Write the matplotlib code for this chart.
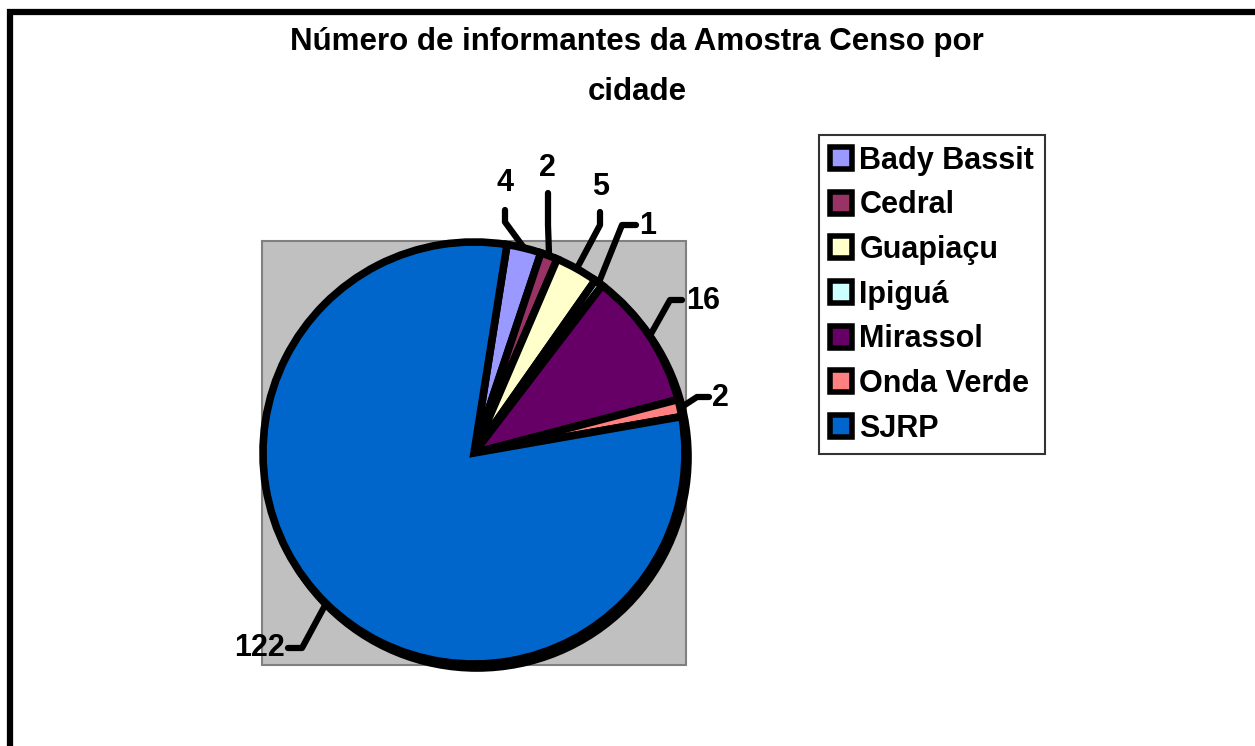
import matplotlib
matplotlib.use("Agg")
import matplotlib.pyplot as plt
from matplotlib.patches import Rectangle, Circle, Patch
import numpy as np

plt.rcParams['font.family'] = ['Liberation Sans', 'DejaVu Sans']
plt.rcParams['font.weight'] = 'bold'

cidades = ['Bady Bassit', 'Cedral', 'Guapiaçu', 'Ipiguá', 'Mirassol', 'Onda Verde', 'SJRP']
informantes = [4, 2, 5, 1, 16, 2, 122]
cores = ['#9999FF', '#993366', '#FFFFCC', '#CCFFFF', '#660066', '#FF8080', '#0066CC']
titulo = 'Número de informantes da Amostra Censo por\ncidade'

W, H = 1255, 746
fig = plt.figure(figsize=(W / 100, H / 100), dpi=100)
ax = fig.add_axes([0, 0, 1, 1])

def py(y):
    return H - y

# page frame (left and top only, the rest is cut off)
ax.plot([10, 10, W + 5], [-5, py(12), py(12)], color='black', lw=4.5,
        solid_joinstyle='miter', clip_on=False)

# plot area
cx, cy, r = 474, py(453), 211
ax.add_patch(Rectangle((262, py(665)), 424, 424, facecolor='#C0C0C0',
                       edgecolor='#808080', lw=1.5, zorder=1))
# shadow
ax.add_patch(Circle((cx + 3, cy - 4), r, facecolor='black', edgecolor='black',
                    lw=5.5, zorder=2))

start = 81
wedges, _ = ax.pie(informantes, colors=cores, startangle=start, counterclock=False,
                   center=(cx, cy), radius=r, frame=True,
                   wedgeprops=dict(edgecolor='black', linewidth=5.5))
for w in wedges:
    w.set_zorder(3)
ax.set_xlim(0, W)
ax.set_ylim(0, H)
ax.set_aspect('auto')
ax.axis('off')

# data labels with leader lines (label position, elbow point, end point, alignment)
rotulos = [
    ((505, 183), (505, 222), (505, 210), 'center'),
    ((547, 168), (548, 225), (548, 193), 'center'),
    ((601, 187), (600, 225), (600, 212), 'center'),
    ((639, 226), (622, 225), (636, 225), 'left'),
    ((686, 301), (670, 300), (682, 300), 'left'),
    ((712, 398), (697, 397), (709, 397), 'left'),
    ((285, 648), (302, 648), (288, 648), 'right'),
]
total = sum(informantes)
ang = start
for v, (txy, elbow, end, ha) in zip(informantes, rotulos):
    frac = v / total * 360
    mid = np.deg2rad(ang - frac / 2)
    ang -= frac
    sx = cx + r * np.cos(mid)
    sy = cy + r * np.sin(mid)
    ax.plot([sx, elbow[0], end[0]], [sy, py(elbow[1]), py(end[1])], color='black',
            lw=4.5, solid_capstyle='round', solid_joinstyle='round', zorder=4)
    ax.text(txy[0], py(txy[1]), str(v), fontsize=22, fontweight='bold',
            ha=ha, va='center', zorder=5)

ax.text(637, py(67), titulo, fontsize=22.5, fontweight='bold', ha='center',
        va='center', linespacing=1.9)

handles = [Patch(facecolor=c, edgecolor='black', linewidth=4, joinstyle='round')
           for c in cores]
leg = fig.legend(handles, cidades, loc='upper left',
                 bbox_to_anchor=(819 / W, 1 - 135 / H),
                 prop={'weight': 'bold', 'size': 22}, frameon=True, fancybox=False,
                 handlelength=0.72, handleheight=0.72, handletextpad=0.25,
                 labelspacing=0.48, borderpad=0.35, borderaxespad=0)
leg.get_frame().set_edgecolor('black')
leg.get_frame().set_linewidth(1.5)

fig.savefig('out.png', dpi=100)
